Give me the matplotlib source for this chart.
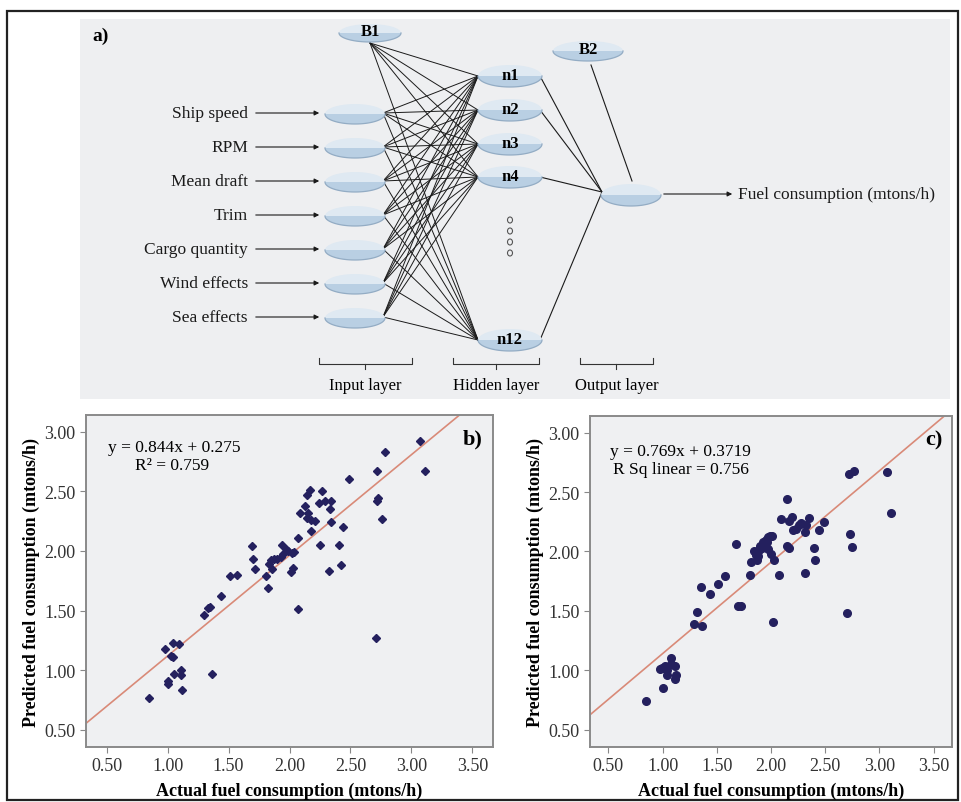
import numpy as np
import matplotlib.pyplot as plt
from matplotlib.patches import Ellipse, Polygon, Rectangle

plt.rcParams['font.family'] = ['Liberation Serif', 'DejaVu Serif']

# network diagram texts
input_names = ["Ship speed", "RPM", "Mean draft", "Trim", "Cargo quantity", "Wind effects", "Sea effects"]
hidden_names = ["n1", "n2", "n3", "n4", "n12"]
layer_names = ["Input layer", "Hidden layer", "Output layer"]
output_name = "Fuel consumption (mtons/h)"

# b) actual vs predicted
b_actual = [0.85, 0.98, 1.04, 1.09, 1.03, 1.04, 1.00, 1.00, 1.05, 1.11, 1.11, 1.12, 1.36, 1.30, 1.33,
            1.35, 1.44, 1.51, 1.57, 1.69, 1.70, 1.72, 1.82, 1.81, 1.83, 1.85, 1.87, 1.86, 1.90, 1.93,
            1.94, 1.95, 1.97, 1.99, 2.02, 2.04, 2.01, 2.03, 2.07, 2.07, 2.09, 2.13, 2.14, 2.17, 2.15,
            2.14, 2.18, 2.21, 2.18, 2.24, 2.27, 2.29, 2.33, 2.34, 2.34, 2.25, 2.32, 2.41, 2.44, 2.42,
            2.49, 2.72, 2.73, 2.72, 2.76, 2.78, 2.71, 3.07, 3.11]
b_pred = [0.77, 1.18, 1.23, 1.22, 1.12, 1.11, 0.91, 0.88, 0.97, 1.00, 0.96, 0.83, 0.97, 1.46, 1.52,
          1.53, 1.62, 1.79, 1.80, 2.04, 1.93, 1.85, 1.69, 1.79, 1.89, 1.92, 1.93, 1.85, 1.93, 1.95,
          2.05, 1.97, 2.02, 2.00, 1.98, 1.99, 1.82, 1.86, 2.11, 1.51, 2.32, 2.38, 2.47, 2.51, 2.32,
          2.28, 2.26, 2.25, 2.17, 2.40, 2.50, 2.42, 2.35, 2.42, 2.24, 2.05, 1.83, 2.05, 2.20, 1.88,
          2.60, 2.67, 2.44, 2.42, 2.27, 2.83, 1.27, 2.92, 2.67]
b_slope, b_icpt = 0.844, 0.275
b_eq = ["y = 0.844x + 0.275", "R² = 0.759"]

# c) actual vs predicted
c_actual = [0.85, 1.00, 0.98, 0.99, 1.02, 1.04, 1.04, 1.08, 1.08, 1.11, 1.12, 1.11, 1.29, 1.32, 1.36,
            1.35, 1.44, 1.51, 1.58, 1.68, 1.70, 1.72, 1.81, 1.82, 1.84, 1.86, 1.89, 1.87, 1.90, 1.93,
            1.97, 2.01, 1.96, 1.97, 2.00, 2.03, 2.07, 2.02, 2.09, 2.15, 2.17, 2.19, 2.20, 2.23, 2.26,
            2.28, 2.15, 2.17, 2.31, 2.35, 2.32, 2.31, 2.40, 2.41, 2.44, 2.49, 2.70, 2.72, 2.77, 2.73,
            2.75, 3.07, 3.11, 1.88, 1.92, 1.95, 1.99]
c_pred = [0.74, 0.85, 1.01, 1.02, 1.04, 1.00, 0.96, 1.10, 1.05, 1.04, 0.96, 0.93, 1.39, 1.49, 1.37,
          1.70, 1.64, 1.73, 1.79, 2.06, 1.54, 1.54, 1.80, 1.91, 2.00, 1.97, 2.01, 1.93, 2.05, 2.08,
          2.12, 2.13, 2.08, 2.02, 1.98, 1.93, 1.80, 1.41, 2.27, 2.44, 2.26, 2.29, 2.18, 2.19, 2.22,
          2.24, 2.05, 2.03, 2.16, 2.28, 2.22, 1.82, 2.03, 1.93, 2.18, 2.25, 1.48, 2.65, 2.68, 2.15,
          2.04, 2.67, 2.32, 1.96, 2.03, 2.10, 2.13]
c_slope, c_icpt = 0.769, 0.3719
c_eq = ["y = 0.769x + 0.3719", "R Sq linear = 0.756"]

ticks = [0.5, 1.0, 1.5, 2.0, 2.5, 3.0, 3.5]
xlab = "Actual fuel consumption (mtons/h)"
ylab = "Predicted fuel consumption (mtons/h)"

fig = plt.figure(figsize=(9.62, 8.03), dpi=100)

# ---- diagram in pixel coordinates
d = fig.add_axes([0, 0, 1, 1])
d.set_xlim(0, 962)
d.set_ylim(803, 0)
d.axis('off')
d.add_patch(Rectangle((80, 20), 870, 380, fc='#eeeff1', ec='none', zorder=0))
d.add_patch(Rectangle((7, 12), 951, 789, fc='none', ec='#222222', lw=1.6, zorder=5))


def node(cx, cy, w, h):
    d.add_patch(Ellipse((cx, cy), w, h, fc='#dfe9f2', ec='none', zorder=3))
    t = np.linspace(0, np.pi, 40)
    xs = cx + w / 2 * np.cos(t)
    ys = cy + h / 2 * np.sin(t)
    d.add_patch(Polygon(np.column_stack([xs, ys]), closed=True, fc='#b9cfe3', ec='none', zorder=3))
    d.plot(xs, ys, color='#93acc4', lw=0.9, zorder=3)


in_x, hid_x, out_x = 355, 510, 631
in_y = [114 + 34 * i for i in range(len(input_names))]
hid_y = [77, 111, 145, 178, 341]
b1 = (370, 34)
b2 = (588, 52)
out_y = 195

for hy in hid_y:
    d.plot([b1[0], 478], [b1[1] + 10, hy], color='#1a1a1a', lw=0.7, zorder=2)
    for iy in in_y:
        d.plot([in_x + 28, 478], [iy, hy], color='#1a1a1a', lw=0.7, zorder=2)
for hy in [77, 111, 178, 341]:
    d.plot([hid_x + 30, out_x - 29], [hy, out_y - 2], color='#1a1a1a', lw=0.8, zorder=2)
d.plot([b2[0] + 3, out_x + 1], [b2[1] + 14, out_y - 13], color='#1a1a1a', lw=0.8, zorder=2)

for name, iy in zip(input_names, in_y):
    node(in_x, iy + 1, 60, 20)
    d.text(248, iy, name, ha='right', va='center', fontsize=12.5, color='#1a1a1a')
    d.annotate('', xy=(322, iy), xytext=(253, iy),
               arrowprops=dict(arrowstyle='-|>', color='#1a1a1a', lw=0.8, mutation_scale=7))

node(b1[0], b1[1], 62, 18)
d.text(b1[0], b1[1] - 2, "B1", ha='center', va='center', fontsize=12, fontweight='bold', zorder=4)
node(b2[0], b2[1], 70, 20)
d.text(b2[0], b2[1] - 2, "B2", ha='center', va='center', fontsize=12, fontweight='bold', zorder=4)
for name, hy in zip(hidden_names, hid_y):
    node(hid_x, hy, 64, 22)
    d.text(hid_x, hy - 1, name, ha='center', va='center', fontsize=12, fontweight='bold', zorder=4)
for k in range(4):
    d.add_patch(Ellipse((hid_x, 221 + 11 * k), 5, 6, fc='none', ec='#555555', lw=0.8, zorder=3))
node(out_x, out_y + 1, 60, 22)
d.annotate('', xy=(735, out_y), xytext=(661, out_y),
           arrowprops=dict(arrowstyle='-|>', color='#1a1a1a', lw=0.8, mutation_scale=7))
d.text(738, out_y, output_name, ha='left', va='center', fontsize=12.5, color='#1a1a1a')
d.text(92, 36, "a)", ha='left', va='center', fontsize=14, fontweight='bold')

for name, (x0, x1) in zip(layer_names, [(319, 412), (453, 539), (580, 653)]):
    d.plot([x0, x0, x1, x1], [359, 365, 365, 359], color='#333333', lw=0.8)
    d.plot([(x0 + x1) / 2] * 2, [365, 370], color='#333333', lw=0.8)
    d.text((x0 + x1) / 2, 386, name, ha='center', va='center', fontsize=12)


# ---- scatter panels
def scatter_panel(rect, xs, ys, slope, icpt, tag, marker, ms):
    ax = fig.add_axes(rect)
    ax.set_facecolor('#eff0f2')
    ax.set_xlim(0.33, 3.67)
    ax.set_ylim(0.355, 3.14)
    lx = np.array([0.33, 3.67])
    ax.plot(lx, slope * lx + icpt, color='#d98a78', lw=1.2, zorder=2)
    ax.plot(xs, ys, linestyle='none', marker=marker, ms=ms, color='#24205e', zorder=3)
    ax.set_xticks(ticks)
    ax.set_yticks(ticks[:-1])
    ax.set_xticklabels([f"{t:.2f}" for t in ticks], fontsize=13)
    ax.set_yticklabels([f"{t:.2f}" for t in ticks[:-1]], fontsize=13)
    ax.tick_params(colors='#333333', length=4, color='#888888')
    for s in ax.spines.values():
        s.set_color('#8a8a8a')
        s.set_linewidth(1.4)
    ax.set_xlabel(xlab, fontsize=13, fontweight='bold', labelpad=5)
    ax.set_ylabel(ylab, fontsize=13, fontweight='bold', labelpad=3)
    ax.text(0.975, 0.93, tag, transform=ax.transAxes, ha='right', va='center',
            fontsize=16, fontweight='bold')
    return ax


axb = scatter_panel([0.0894, 0.0685, 0.4231, 0.4134], b_actual, b_pred, b_slope, b_icpt, "b)", 'D', 4.5)
axb.text(0.055, 0.905, b_eq[0], transform=axb.transAxes, ha='left', va='center', fontsize=12.5)
axb.text(0.12, 0.85, b_eq[1], transform=axb.transAxes, ha='left', va='center', fontsize=12.5)

axc = scatter_panel([0.6133, 0.0685, 0.3763, 0.4122], c_actual, c_pred, c_slope, c_icpt, "c)", 'o', 5.5)
axc.text(0.055, 0.895, c_eq[0], transform=axc.transAxes, ha='left', va='center', fontsize=12.5)
axc.text(0.063, 0.84, c_eq[1], transform=axc.transAxes, ha='left', va='center', fontsize=12.5)

fig.savefig("out.png", dpi=100, facecolor='white')
